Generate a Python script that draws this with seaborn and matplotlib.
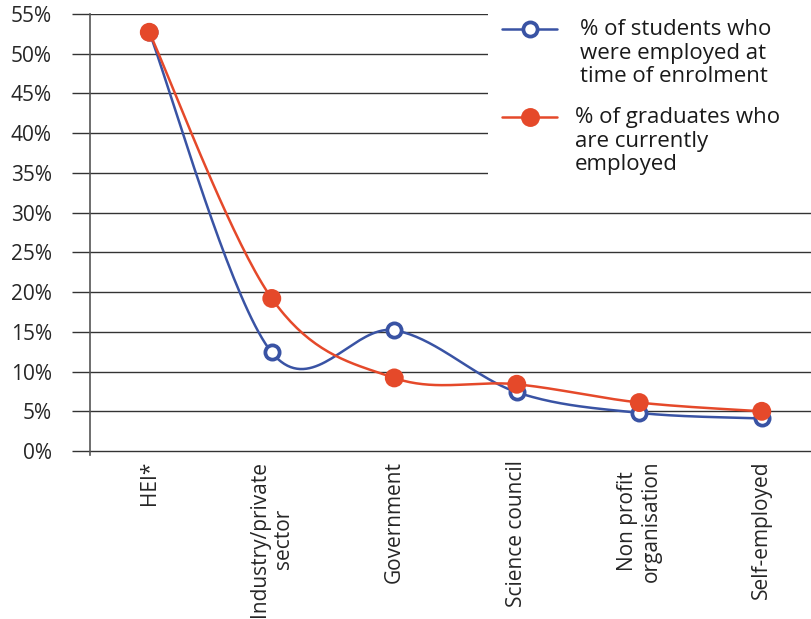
import numpy as np
import pandas as pd
import matplotlib
matplotlib.use("Agg")
import matplotlib.pyplot as plt
from matplotlib.lines import Line2D
from matplotlib.patches import Rectangle
import seaborn as sns

# Data (percent)
categories = ["HEI*", "Industry/private\nsector", "Government", "Science council",
              "Non profit\norganisation", "Self-employed"]
employed_at_enrolment = [52.7, 12.4, 15.2, 7.4, 4.8, 4.1]
currently_employed = [52.7, 19.2, 9.2, 8.4, 6.1, 5.0]
y_ticks = list(range(0, 60, 5))
legend_labels = ["% of students who\nwere employed at\ntime of enrolment",
                 "% of graduates who\nare currently\nemployed"]

BLUE = "#3953a4"
ORANGE = "#e5492a"
GRID = "#333333"
W, H = 812, 619


def smooth(yv, steps=40):
    # Catmull-Rom curve through the points, like Excel's "smoothed line"
    xv = np.arange(len(yv), dtype=float)
    yv = np.asarray(yv, dtype=float)
    px = np.concatenate([[xv[0]], xv, [xv[-1]]])
    py = np.concatenate([[yv[0]], yv, [yv[-1]]])
    t = np.linspace(0, 1, steps)[:, None]
    xs, ys = [], []
    for i in range(1, len(px) - 2):
        for p, out in ((px, xs), (py, ys)):
            p0, p1, p2, p3 = p[i - 1], p[i], p[i + 1], p[i + 2]
            q = 0.5 * (2 * p1 + (-p0 + p2) * t + (2 * p0 - 5 * p1 + 4 * p2 - p3) * t ** 2
                       + (-p0 + 3 * p1 - 3 * p2 + p3) * t ** 3)
            out.append(q.ravel())
    return np.concatenate(xs), np.concatenate(ys)


sns.set_theme(style="white")
plt.rcParams["font.family"] = ["Open Sans", "DejaVu Sans"]
plt.rcParams["text.color"] = "#1a1a1a"

fig = plt.figure(figsize=(W / 100, H / 100), dpi=100)
ax = fig.add_axes([90 / W, 1 - 455 / H, 1 - 90 / W, (455 - 14) / H])

x = np.arange(len(categories))
for vals, color in ((employed_at_enrolment, BLUE), (currently_employed, ORANGE)):
    sx, sy = smooth(vals)
    sns.lineplot(x=sx, y=sy, sort=False, estimator=None, color=color, lw=1.8, ax=ax, zorder=3)

sns.scatterplot(x=x, y=employed_at_enrolment, s=105, facecolor="white", edgecolor=BLUE,
                linewidth=2.7, ax=ax, zorder=4)
sns.scatterplot(x=x, y=currently_employed, s=185, color=ORANGE, edgecolor="none",
                ax=ax, zorder=5)

ax.set_xlim(-0.484, 5.41)
ax.set_ylim(-0.5, 55)
ax.set_yticks(y_ticks)
ax.set_yticklabels([f"{v}%" for v in y_ticks], fontsize=15)
ax.set_xticks(x)
ax.set_xticklabels(categories, rotation=90, fontsize=15)
for lab in ax.get_xticklabels():
    lab.set_multialignment("center")
ax.tick_params(axis="x", length=0, pad=4)
ax.tick_params(axis="y", length=12.96, width=1.0, color=GRID, pad=14.4, left=True)
ax.grid(axis="y", color=GRID, lw=1.0)
ax.grid(axis="x", visible=False)
for side in ("top", "right", "bottom"):
    ax.spines[side].set_visible(False)
ax.spines["left"].set_color("#555555")
ax.spines["left"].set_linewidth(1.2)
ax.set_xlabel("")
ax.set_ylabel("")


def fx(px):
    return px / W


def fy(py):
    return 1 - py / H


# Legend, top right, on a white box that hides the gridlines
fig.add_artist(Rectangle((fx(488), fy(190)), fx(W - 488), 190 / H, transform=fig.transFigure,
                         facecolor="white", edgecolor="none", zorder=1))
handles = [(29, BLUE, dict(mfc="white", mec=BLUE, mew=2.7, ms=10.2), 580),
           (117, ORANGE, dict(mfc=ORANGE, mec="none", ms=13.6), 575)]
for (hy, color, mk, tx), label in zip(handles, legend_labels):
    fig.add_artist(Line2D([fx(502), fx(557)], [fy(hy), fy(hy)], transform=fig.transFigure,
                          color=color, lw=1.8, zorder=2))
    fig.add_artist(Line2D([fx(530)], [fy(hy)], transform=fig.transFigure, marker="o",
                          ls="none", zorder=2.5, **mk))
    fig.text(fx(tx), fy(hy - 10), label, ha="left", va="top", fontsize=16,
             linespacing=1.16, zorder=3)

fig.savefig("out.png", dpi=100)
